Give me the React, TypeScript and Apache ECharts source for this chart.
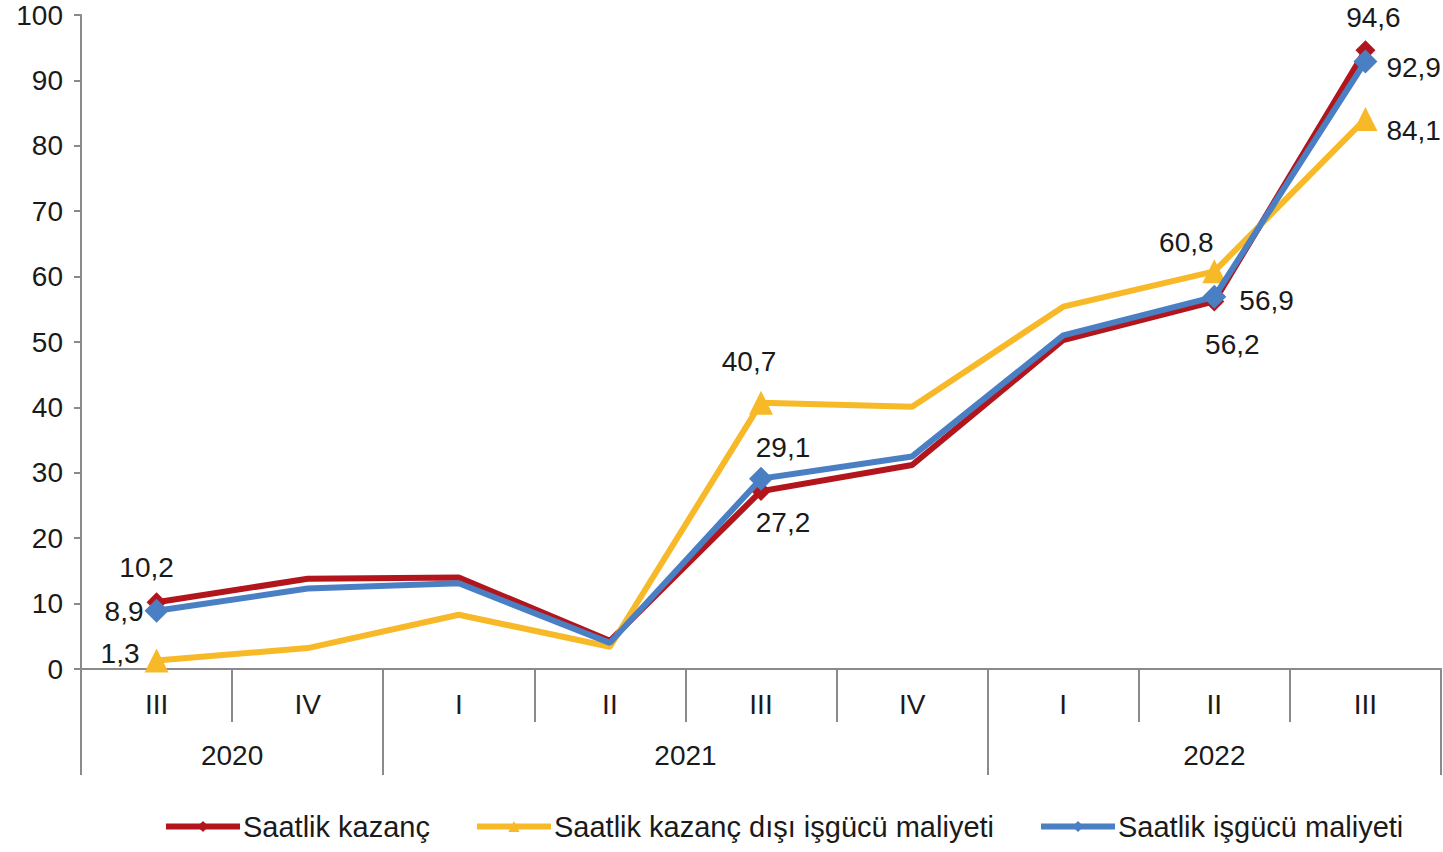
import React, { useEffect, useRef } from "react";
import * as echarts from "echarts";

const quarters = ["III", "IV", "I", "II", "III", "IV", "I", "II", "III"];
const years = ["2020", "2021", "2022"];
const yearSpans = [2, 4, 3];
const yTicks = [0, 10, 20, 30, 40, 50, 60, 70, 80, 90, 100];

const wage = [10.2, 13.8, 14.0, 4.3, 27.2, 31.2, 50.3, 56.2, 94.6];
const nonWage = [1.3, 3.2, 8.3, 3.4, 40.7, 40.1, 55.4, 60.8, 84.1];
const total = [8.9, 12.3, 13.1, 4.0, 29.1, 32.5, 51.0, 56.9, 92.9];

const labeledIdx = [0, 4, 7, 8];

const FONT = "Liberation Sans, Arial, sans-serif";
const TXT = "#1a1a1a";
const AXIS = "#8a8a8a";
const FS = 28;

type LabelCfg = { position: string; offset: number[] };

const wageLabels: Record<number, LabelCfg> = {
  0: { position: "top", offset: [-10, -6] },
  4: { position: "bottom", offset: [22, 2] },
  7: { position: "bottom", offset: [18, 14] },
  8: { position: "top", offset: [8, -4] },
};
const nonWageLabels: Record<number, LabelCfg> = {
  0: { position: "left", offset: [0, -7] },
  4: { position: "top", offset: [-12, -10] },
  7: { position: "top", offset: [-28, 2] },
  8: { position: "right", offset: [4, 12] },
};
const totalLabels: Record<number, LabelCfg> = {
  0: { position: "left", offset: [4, 1] },
  4: { position: "top", offset: [22, 0] },
  7: { position: "right", offset: [8, 4] },
  8: { position: "right", offset: [4, 6] },
};

function buildData(values: number[], labels: Record<number, LabelCfg>, size: number) {
  return values.map((v, i) => {
    if (labeledIdx.includes(i)) {
      const l = labels[i];
      return {
        value: v,
        symbolSize: size,
        label: {
          show: true,
          position: l.position,
          offset: l.offset,
          formatter: () => String(v).replace(".", ","),
        },
      };
    }
    return { value: v, symbol: "none" };
  });
}

export default function App() {
  const ref = useRef<HTMLDivElement>(null);
  useEffect(() => {
    if (!ref.current) return;
    const chart = echarts.init(ref.current, undefined, { renderer: "svg" });

    const bounds: number[] = [0];
    const centers: number[] = [];
    let acc = 0;
    yearSpans.forEach((s) => {
      centers.push(acc + s / 2);
      acc += s;
      bounds.push(acc);
    });

    const labelStyle = {
      fontFamily: FONT,
      fontSize: FS,
      color: TXT,
    };

    chart.setOption({
      animation: false,
      backgroundColor: "#ffffff",
      textStyle: { fontFamily: FONT },
      grid: { left: 81, right: 2, top: 15, bottom: 183, containLabel: false },
      legend: {
        bottom: 6,
        left: 158,
        itemGap: 44,
        itemWidth: 74,
        itemHeight: 14,
        lineStyle: { width: 6 },
        textStyle: { fontFamily: FONT, fontSize: 29, color: TXT, padding: [0, 0, 0, -2] },
        data: ["Saatlik kazanç", "Saatlik kazanç dışı işgücü maliyeti", "Saatlik işgücü maliyeti"],
      },
      xAxis: [
        {
          type: "category",
          data: quarters,
          boundaryGap: true,
          axisLine: { show: true, lineStyle: { color: AXIS, width: 2 } },
          axisTick: { show: true, interval: 0, length: 53, lineStyle: { color: AXIS, width: 2 } },
          axisLabel: { interval: 0, margin: 21, fontFamily: FONT, fontSize: FS, color: TXT },
          splitLine: { show: false },
        },
        {
          type: "value",
          min: 0,
          max: quarters.length,
          position: "bottom",
          axisLine: { show: false },
          splitLine: { show: false },
          axisTick: {
            show: true,
            customValues: bounds,
            length: 106,
            lineStyle: { color: AXIS, width: 2 },
          },
          axisLabel: {
            show: true,
            customValues: centers,
            margin: 72,
            fontFamily: FONT,
            fontSize: FS,
            color: TXT,
            formatter: (val: number) => {
              const idx = centers.findIndex((c) => Math.abs(c - val) < 1e-6);
              return idx >= 0 ? years[idx] : "";
            },
          },
        },
      ],
      yAxis: {
        type: "value",
        min: yTicks[0],
        max: yTicks[yTicks.length - 1],
        interval: 10,
        axisLine: { show: true, lineStyle: { color: AXIS, width: 2 } },
        axisTick: { show: true, length: 7, lineStyle: { color: AXIS, width: 2 } },
        axisLabel: { margin: 18, fontFamily: FONT, fontSize: FS, color: TXT },
        splitLine: { show: false },
      },
      series: [
        {
          name: "Saatlik kazanç",
          type: "line",
          xAxisIndex: 0,
          symbol: "diamond",
          symbolSize: 18,
          showSymbol: true,
          color: "#b2161c",
          lineStyle: { width: 6, color: "#b2161c" },
          itemStyle: { color: "#b2161c" },
          label: labelStyle,
          data: buildData(wage, wageLabels, 20),
          z: 2,
        },
        {
          name: "Saatlik kazanç dışı işgücü maliyeti",
          type: "line",
          xAxisIndex: 0,
          symbol: "triangle",
          symbolSize: 22,
          color: "#f7b928",
          lineStyle: { width: 6, color: "#f7b928" },
          itemStyle: { color: "#f7b928" },
          label: labelStyle,
          data: buildData(nonWage, nonWageLabels, 24),
          z: 3,
        },
        {
          name: "Saatlik işgücü maliyeti",
          type: "line",
          xAxisIndex: 0,
          symbol: "diamond",
          symbolSize: 22,
          color: "#4a7fc4",
          lineStyle: { width: 6, color: "#4a7fc4" },
          itemStyle: { color: "#4a7fc4" },
          label: labelStyle,
          data: buildData(total, totalLabels, 24),
          z: 4,
        },
      ],
    });
    return () => chart.dispose();
  }, []);

  return (
    <div
      ref={ref}
      style={{ position: "absolute", left: 0, top: 0, width: 1443, height: 852, background: "#fff" }}
    />
  );
}
